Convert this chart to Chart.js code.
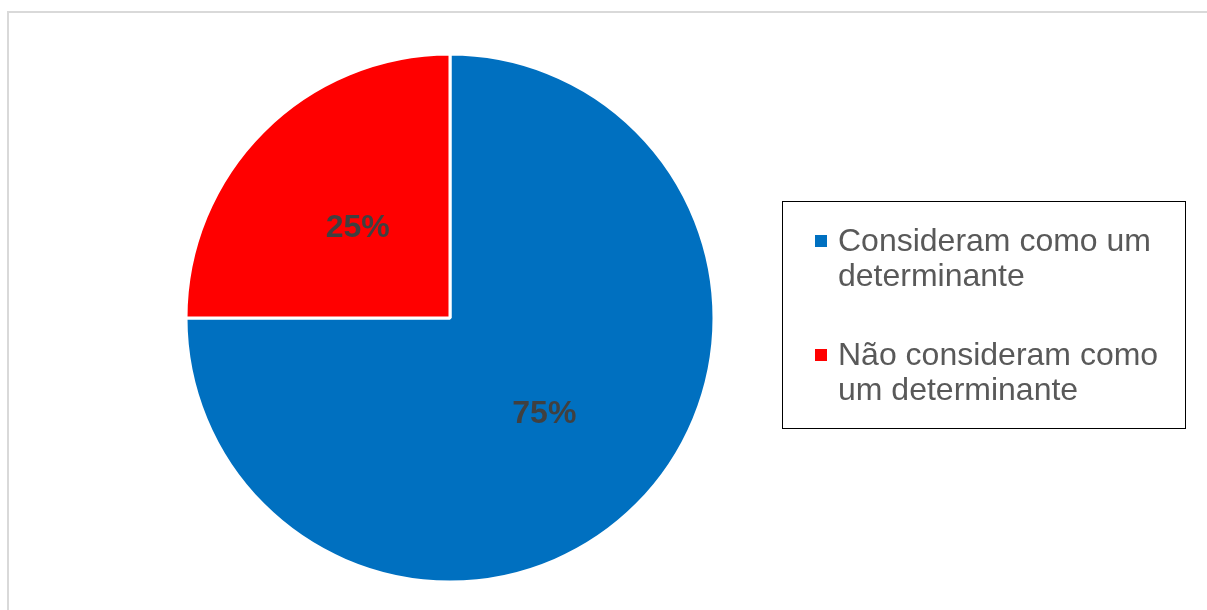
<!DOCTYPE html>
<html>
<head>
<meta charset="utf-8">
<script src="https://cdn.jsdelivr.net/npm/chart.js@4"></script>
<style>
  html, body { margin: 0; padding: 0; background: #fff; overflow: hidden; }
  .moldura {
    position: absolute; left: 7px; top: 11px; width: 1210px; height: 700px;
    border: 2px solid #d9d9d9; box-sizing: border-box;
  }
  #grafico { position: absolute; left: 0; top: 0; }
</style>
</head>
<body>
<div class="moldura"></div>
<canvas id="grafico" width="1207" height="610"></canvas>
<script>
const categorias = ['Consideram como um determinante', 'Não consideram como um determinante'];
const valores = [75, 25];
const cores = ['#0070C0', '#FF0000'];

const fonte = '"Liberation Sans", Arial, sans-serif';

// quebra o texto da legenda em linhas que cabem na largura
function quebrarTexto(ctx, texto, largura) {
    const palavras = texto.split(' ');
    const linhas = [];
    let atual = '';
    palavras.forEach(p => {
        const teste = atual ? atual + ' ' + p : p;
        if (ctx.measureText(teste).width > largura && atual) {
            linhas.push(atual);
            atual = p;
        } else {
            atual = teste;
        }
    });
    if (atual) linhas.push(atual);
    return linhas;
}

// legenda com moldura preta à direita da pizza
const legendaCaixa = {
    id: 'legendaCaixa',
    afterDraw(chart) {
        const ctx = chart.ctx;
        const ds = chart.data.datasets[0];
        ctx.save();
        ctx.strokeStyle = '#000';
        ctx.lineWidth = 1;
        ctx.strokeRect(782.5, 201.5, 403, 227);
        ctx.font = '32px ' + fonte;
        ctx.textBaseline = 'alphabetic';
        ctx.textAlign = 'left';
        let y = 251;
        chart.data.labels.forEach((label, i) => {
            const linhas = quebrarTexto(ctx, label, 335);
            ctx.fillStyle = ds.backgroundColor[i];
            ctx.fillRect(815, y - 16, 12, 12);
            ctx.fillStyle = '#595959';
            linhas.forEach((l, j) => ctx.fillText(l, 838, y + j * 35));
            y += 114;
        });
        ctx.restore();
    }
};

// percentuais dentro de cada fatia
const rotulos = {
    id: 'rotulos',
    afterDatasetsDraw(chart) {
        const ctx = chart.ctx;
        const meta = chart.getDatasetMeta(0);
        ctx.save();
        ctx.font = 'bold 32px ' + fonte;
        ctx.fillStyle = '#404040';
        ctx.textAlign = 'center';
        ctx.textBaseline = 'alphabetic';
        meta.data.forEach((arc, i) => {
            const p = arc.tooltipPosition();
            // linha de base abaixo do ponto médio para centrar os algarismos
            ctx.fillText(valores[i] + '%', p.x + 1, p.y + 12);
        });
        ctx.restore();
    }
};

new Chart(document.getElementById('grafico'), {
    type: 'pie',
    data: {
        labels: categorias,
        datasets: [{
            data: valores,
            backgroundColor: cores,
            borderColor: '#ffffff',
            borderWidth: 3
        }]
    },
    options: {
        responsive: false,
        animation: false,
        radius: 264,
        layout: { padding: { left: 150, right: 457, top: 40, bottom: 14 } },
        plugins: {
            legend: { display: false },
            tooltip: { enabled: false }
        }
    },
    plugins: [rotulos, legendaCaixa]
});
</script>
</body>
</html>
